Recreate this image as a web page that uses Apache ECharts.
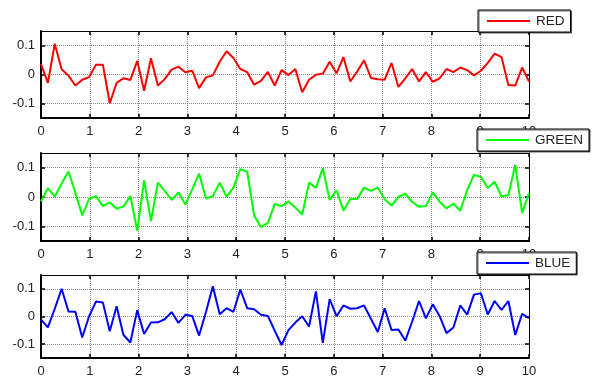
<!DOCTYPE html>
<html>
<head>
<meta charset="utf-8">
<script src="https://cdn.jsdelivr.net/npm/echarts@6/dist/echarts.min.js"></script>
<style>
html,body{margin:0;padding:0;background:#fff;}
#chart{width:596px;height:378px;}
</style>
</head>
<body>
<div id="chart"></div>
<script>
const xTicks = [0,1,2,3,4,5,6,7,8,9,10];
const yTicks = [-0.1, 0, 0.1];
const seriesNames = ['RED', 'GREEN', 'BLUE'];
const red = [0.036,-0.029,0.106,0.018,-0.004,-0.038,-0.018,-0.009,0.034,0.034,-0.099,-0.029,-0.013,-0.019,0.047,-0.056,0.056,-0.038,-0.016,0.017,0.027,0.008,0.013,-0.047,-0.010,-0.003,0.044,0.080,0.057,0.019,0.008,-0.035,-0.022,0.009,-0.038,0.015,-0.002,0.019,-0.061,-0.018,-0.001,0.003,0.044,0.004,0.060,-0.024,0.010,0.049,-0.012,-0.016,-0.018,0.040,-0.043,-0.013,0.019,-0.024,0.008,-0.025,-0.013,0.019,0.008,0.024,0.015,-0.003,0.013,0.040,0.072,0.060,-0.036,-0.038,0.024,-0.024];
const green = [-0.015,0.030,0.001,0.046,0.087,0.015,-0.063,-0.006,0.003,-0.031,-0.018,-0.040,-0.032,0.003,-0.115,0.057,-0.082,0.049,0.021,-0.010,0.016,-0.026,0.026,0.080,-0.005,0.003,0.049,0.001,0.032,0.095,0.086,-0.062,-0.103,-0.089,-0.024,-0.031,-0.015,-0.036,-0.060,0.049,0.031,0.098,-0.010,0.023,-0.047,-0.007,-0.007,0.032,0.021,0.032,-0.008,-0.029,0.000,0.011,-0.017,-0.033,-0.031,0.016,-0.016,-0.039,-0.022,-0.047,0.023,0.076,0.068,0.031,0.052,0.002,0.007,0.109,-0.054,0.013];
const blue = [-0.011,-0.039,0.028,0.100,0.018,0.017,-0.076,0.001,0.054,0.051,-0.053,0.037,-0.067,-0.094,0.023,-0.063,-0.022,-0.021,-0.010,0.016,-0.023,0.006,0.002,-0.069,0.016,0.109,0.008,0.030,0.017,0.097,0.030,0.026,0.006,0.002,-0.051,-0.103,-0.049,-0.022,0.001,-0.036,0.091,-0.095,0.063,0.001,0.040,0.028,0.030,0.040,-0.008,-0.056,0.030,-0.049,-0.047,-0.087,-0.018,0.056,-0.007,0.044,0.001,-0.060,-0.040,0.040,0.007,0.079,0.084,0.007,0.056,0.024,0.056,-0.067,0.010,-0.006];
const xStart = 0, xEnd = 10;

const allData = [red, green, blue];
const colors = ['#ff0000', '#00ff00', '#0000ff'];
const FONT = "'Liberation Sans', Arial, sans-serif";

const grids = [
  {left: 41, top: 31, width: 488, height: 87},
  {left: 41, top: 153, width: 488, height: 88},
  {left: 41, top: 275, width: 488, height: 88}
];
const legendPos = [
  {left: 478, top: 10},
  {left: 477, top: 129},
  {left: 477, top: 252}
];

const option = {
  animation: false,
  backgroundColor: '#fff',
  grid: grids.map(g => Object.assign({containLabel: false}, g)),
  xAxis: [],
  yAxis: [],
  series: [],
  legend: []
};

const gridLineStyle = {color: '#8c8c8c', width: 1, type: [1, 1]};

grids.forEach((g, k) => {
  option.xAxis.push({
    type: 'value', gridIndex: k, min: xTicks[0], max: xTicks[xTicks.length-1], interval: 1,
    position: 'bottom',
    axisLine: {show: true, onZero: false, lineStyle: {color: '#000', width: 2}},
    axisTick: {show: true, inside: true, length: 4, lineStyle: {color: '#000', width: 1.5}},
    axisLabel: {show: true, margin: 7, color: '#222', fontSize: 13, fontFamily: FONT},
    splitLine: {show: true, lineStyle: gridLineStyle}
  });
  option.xAxis.push({
    type: 'value', gridIndex: k, min: xTicks[0], max: xTicks[xTicks.length-1], interval: 1,
    position: 'top',
    axisLine: {show: true, onZero: false, lineStyle: {color: '#000', width: 1}},
    axisTick: {show: true, inside: true, length: 4, lineStyle: {color: '#000', width: 1.5}},
    axisLabel: {show: false},
    splitLine: {show: false}
  });
  option.yAxis.push({
    type: 'value', gridIndex: k, min: -0.15, max: 0.15,
    position: 'left',
    axisLine: {show: true, onZero: false, lineStyle: {color: '#000', width: 2}},
    axisTick: {show: true, inside: true, length: 4, customValues: yTicks, lineStyle: {color: '#000', width: 1.5}},
    axisLabel: {show: true, customValues: yTicks, margin: 6, color: '#222', fontSize: 13, fontFamily: FONT,
      formatter: v => String(v)},
    splitLine: {show: true, lineStyle: gridLineStyle}
  });
  option.yAxis.push({
    type: 'value', gridIndex: k, min: -0.15, max: 0.15,
    position: 'right',
    axisLine: {show: true, onZero: false, lineStyle: {color: '#000', width: 1}},
    axisTick: {show: true, inside: true, length: 4, customValues: yTicks, lineStyle: {color: '#000', width: 1.5}},
    axisLabel: {show: false},
    splitLine: {show: false}
  });

  const vals = allData[k];
  const n = vals.length;
  const pts = vals.map((v, i) => [xStart + (xEnd - xStart) * i / (n - 1), v]);
  option.series.push({
    name: seriesNames[k], type: 'line', xAxisIndex: 2*k, yAxisIndex: 2*k,
    data: pts, symbol: 'none', showSymbol: false,
    lineStyle: {color: colors[k], width: 2},
    itemStyle: {color: colors[k]},
    z: 3
  });

  option.legend.push({
    data: [seriesNames[k]],
    left: legendPos[k].left, top: legendPos[k].top,
    orient: 'horizontal',
    icon: 'rect',
    padding: [4, 6, 4, 9],
    itemWidth: 43, itemHeight: 2, itemGap: 5,
    backgroundColor: '#fff',
    borderColor: '#000', borderWidth: 1, borderRadius: 0,
    shadowColor: 'rgba(0,0,0,0.6)', shadowBlur: 0, shadowOffsetX: 1, shadowOffsetY: 1,
    textStyle: {color: '#222', fontSize: 13.5, fontFamily: FONT, lineHeight: 14, padding: [0, 0, 0, 1]},
    selectedMode: false,
    z: 10
  });
});

const chart = echarts.init(document.getElementById('chart'), null, {renderer: 'canvas', width: 596, height: 378});
chart.setOption(option);
</script>
</body>
</html>
